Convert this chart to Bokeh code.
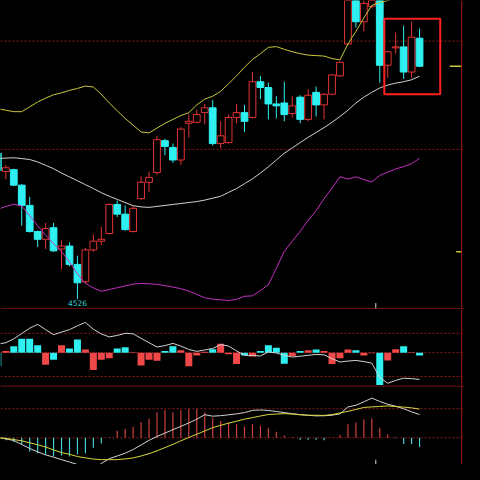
from bokeh.plotting import figure
from bokeh.layouts import column
from bokeh.models import Range1d, Span, ColumnDataSource
from bokeh.core.properties import value
from bokeh.embed import file_html
from bokeh.resources import INLINE

# ---------------- data ----------------
open_ = [4828, 4790, 4794, 4762, 4720, 4666, 4650, 4674, 4630, 4636, 4598, 4562, 4628, 4646, 4662, 4722, 4702, 4666, 4734, 4768,
         4788, 4854, 4840, 4814, 4890, 4892, 4912, 4922, 4848, 4850, 4902, 4912, 4902, 4976, 4964, 4930, 4932, 4910, 4944, 4898,
         4954, 4928, 4950, 4988, 5054, 5156, 5100, 5132, 5164, 5010, 5046, 5048, 4996, 5066]
high = [4840, 4804, 4796, 4764, 4738, 4668, 4684, 4684, 4648, 4644, 4616, 4632, 4660, 4676, 4724, 4730, 4720, 4718, 4780, 4790,
        4864, 4858, 4848, 4882, 4908, 4918, 4930, 4938, 4894, 4908, 4930, 4928, 4996, 4988, 4974, 4946, 4976, 4946, 4948, 4960,
        4966, 4952, 4992, 5018, 5160, 5164, 5154, 5180, 5174, 5040, 5078, 5092, 5100, 5086]
low = [4784, 4774, 4760, 4678, 4664, 4634, 4630, 4624, 4588, 4594, 4526, 4558, 4624, 4638, 4660, 4696, 4668, 4664, 4732, 4748,
       4784, 4824, 4808, 4804, 4860, 4890, 4888, 4844, 4838, 4848, 4890, 4872, 4900, 4940, 4898, 4900, 4894, 4902, 4890, 4894,
       4904, 4898, 4948, 4986, 5052, 5088, 5080, 5128, 4974, 4984, 5034, 4982, 4984, 5006]
close = [4792, 4798, 4762, 4720, 4666, 4650, 4672, 4626, 4636, 4598, 4560, 4628, 4646, 4650, 4722, 4702, 4670, 4714, 4768, 4778,
         4856, 4842, 4814, 4878, 4894, 4908, 4922, 4848, 4864, 4902, 4912, 4894, 4976, 4964, 4930, 4926, 4908, 4926, 4898, 4948,
         4928, 4950, 4990, 5016, 5150, 5100, 5138, 5168, 5010, 5038, 5048, 4996, 5068, 5008]

band_upper = [4920, 4917, 4914, 4914, 4924, 4934, 4942, 4949, 4953, 4958, 4962, 4967, 4965, 4950, 4932, 4916, 4900, 4886, 4872, 4870,
              4880, 4890, 4898, 4906, 4912, 4928, 4940, 4946, 4956, 4972, 4988, 5006, 5022, 5034, 5047, 5048.6, 5043, 5038, 5034, 5031,
              5030, 5029, 5024, 5021, 5054, 5080, 5108, 5134, 5140, 5144, 5150, 5156, 5160, 5164]
band_mid = [4817, 4818, 4818.6, 4817, 4815, 4810, 4803, 4796, 4787, 4779, 4771, 4763, 4755, 4746.4, 4739, 4732.6, 4726, 4719.4, 4717, 4716,
            4718, 4720, 4722, 4724, 4726, 4728, 4731, 4735, 4739, 4747, 4755, 4765, 4775, 4787, 4800, 4814, 4828, 4839, 4850, 4861,
            4871, 4881, 4892, 4904, 4917, 4932, 4944, 4954, 4963, 4969, 4973, 4976, 4980, 4987.4]
band_lower = [4712, 4718, 4722.4, 4718.8, 4699, 4678, 4658.6, 4640.8, 4624.6, 4603, 4578.4, 4558.6, 4549.4, 4542.4, 4546, 4549.8, 4553.4, 4557.4, 4558.6, 4558,
              4556.8, 4554, 4551.2, 4547.6, 4542.8, 4536, 4529, 4526, 4524.8, 4523.2, 4525.8, 4532, 4533, 4544, 4556, 4590, 4625, 4646, 4666.6, 4689.4,
              4709, 4734, 4756, 4779.4, 4774.6, 4779.2, 4773.4, 4768.6, 4782, 4788.8, 4795.4, 4800.4, 4806.4, 4817.4]
main_grid = [5060, 4836]
price_marks = [4624]
highlight = dict(left=48.57, right=55.6, top=5106, bottom=4950)

osc_bar = [-137, 16, 66, 143, 143, 76, -124, -74, 76, 43, 136, 33, -180, -74, -57, 43, 56, 5, -134, -74,
           -84, 16, 66, 26, -140, -30, 10, 36, 93, -17, -117, -30, -40, 16, 76, 50, -114, -34, 16, 26,
           33, 16, -117, -57, 33, 26, -30, -7, -360, -80, 36, 66, 3, -30]
osc_line = [88, 103, 143, 198, 253, 293, 238, 186, 213, 238, 278, 313, 243, 193, 163, 178, 200, 195, 148, 103,
            58, 73, 96, 68, 33, 13, 28, 43, 83, 68, 18, -27, -30, -34, 8, -4, -27, -45, -37, -27,
            -19, -22, -62, -97, -87, -81, -92, -109, -257, -317, -287, -264, -269, -277]
osc_grid = [200, 0, -247]

dif = [0.2, -2.4, -5.8, -14, -22.2, -29.2, -35.4, -40.2, -45.4, -50.2, -55.4, -61.4, -63.4, -53.4, -43.4, -37.8, -32, -24.4, -15, -5.4,
       2.6, 9.6, 16.6, 23.6, 30.6, 38.2, 47.6, 44.6, 45.6, 47.4, 49.4, 52, 56.6, 57.4, 56.4, 54.2, 52, 49.6, 47.8, 46.4,
       45.2, 45.4, 46.6, 49.4, 63.6, 67.2, 74.2, 82, 75, 69.2, 65.2, 60, 53.6, 47.8]
dea = [0.2, -1.4, -3.8, -6.4, -10.6, -14.6, -19.2, -25.2, -30.8, -34.2, -39, -41.6, -44.2, -45.4, -45.4, -45.4, -43.8, -41.8, -37.8, -33,
       -27.2, -20.4, -13.8, -6.4, 0.4, 7.2, 14, 20.8, 25.6, 30.2, 34.2, 38.4, 41.6, 45, 48, 49, 49.8, 49, 47.4, 46.6,
       46.4, 46.2, 47.8, 51.2, 54.6, 58.4, 62.6, 63.8, 64.6, 65.8, 64.4, 63.4, 61.8, 59.2]
macd = [-2, -5.4, -8.6, -14, -28.6, -32, -35.4, -38.6, -36.6, -38.6, -34, -32, -20.6, -12, -0.6, 14.6, 18, 22.6, 32.6, 39.4,
        52.6, 56.6, 52.6, 56.6, 59.4, 59.4, 52.6, 41.4, 34.6, 31.4, 28, 23.4, 28, 24.6, 19.4, 12.6, 4.6, 1, -4, -4,
        -4, -5.4, 0.6, 6, 28, 31.4, 38, 40, 19.4, 6.6, -1, -13, -13, -19.4]
macd_grid = [60, 0]
cursor_x = 47.5

# ---------------- styles ----------------
RED = "#e43434"
CYAN = "#2ef0f0"
BAR_RED = "#f04848"
GRID = "#8a1c1c"
FRAME = "#a01818"
YEL = "#c8c83a"
WHITE = "#d2d2d2"
MAG = "#c030c0"

n = len(open_)
idx = list(range(n))
up = [c >= o for o, c in zip(open_, close)]
col = [RED if u else CYAN for u in up]
fill = ["black" if u else CYAN for u in up]

XR = Range1d(0.33, 58.65)
RIGHT = 58.3
W = 464


def make_fig(h, y0, y1):
    f = figure(width=W, height=h, x_range=XR, y_range=Range1d(y0, y1),
               output_backend="svg", toolbar_location=None,
               x_axis_location=None, y_axis_location=None,
               min_border=0, background_fill_color="black",
               border_fill_color="black", outline_line_color=None)
    f.xgrid.visible = False
    f.ygrid.visible = False
    f.add_layout(Span(location=RIGHT, dimension="height", line_color=FRAME, line_width=1))
    return f


# ---------- main price panel ----------
p1 = make_fig(309, 4504.7, 5144)
for g in main_grid:
    p1.add_layout(Span(location=g, dimension="width", line_color=GRID, line_dash="2 2", level="underlay"))
p1.add_layout(Span(location=4506, dimension="width", line_color=FRAME, line_width=1))

src = ColumnDataSource(dict(x=idx, o=open_, h=high, l=low, c=close,
                            top=[max(a, b) for a, b in zip(open_, close)],
                            bot=[min(a, b) for a, b in zip(open_, close)],
                            col=col, fill=fill))
p1.segment(x0="x", y0="h", x1="x", y1="l", color="col", line_width=1, source=src)
p1.vbar(x="x", width=0.85, top="top", bottom="bot", fill_color="fill", line_color="col", line_width=1, source=src)

p1.line(idx, band_upper, color=YEL, line_width=1)
p1.line(idx, band_mid, color=WHITE, line_width=1)
p1.line(idx, band_lower, color=MAG, line_width=1)

imin = low.index(min(low))
p1.text(x=[imin], y=[low[imin]], text=[str(int(low[imin]))], text_font=value("DejaVu Sans"),
        text_font_size="7.5px", text_align="center", text_baseline="top", y_offset=0.5, text_color="#3cc8c8")

p1.quad(left=[highlight["left"]], right=[highlight["right"]], top=[highlight["top"]], bottom=[highlight["bottom"]],
        fill_color=None, line_color="#ff2222", line_width=2)

p1.segment(x0=[n + 2.8], y0=[close[-1]], x1=[RIGHT], y1=[close[-1]], color=YEL, line_width=1.5)
for m in price_marks:
    p1.segment(x0=[RIGHT - 0.7], y0=[m], x1=[RIGHT], y1=[m], color=YEL, line_width=1.5)
p1.segment(x0=[cursor_x], y0=[4504.7], x1=[cursor_x], y1=[4518], color=WHITE, line_width=1)

# ---------- oscillator panel ----------
p2 = make_fig(76, -339.8, 446.4)
for g in osc_grid:
    p2.add_layout(Span(location=g, dimension="width", line_color=GRID, line_dash="2 2", level="underlay"))
osrc = ColumnDataSource(dict(x=idx, top=[max(v, 0) for v in osc_bar], bot=[min(v, 0) for v in osc_bar],
                             col=[BAR_RED if u else CYAN for u in up]))
p2.vbar(x="x", width=0.88, top="top", bottom="bot", fill_color="col", line_color=None, source=osrc)
p2.line(idx, osc_line, color=WHITE, line_width=1)

# ---------- MACD panel ----------
p3 = make_fig(79, -55.4, 108.04)
p3.add_layout(Span(location=107.0, dimension="width", line_color=FRAME, line_width=1))
for g in macd_grid:
    p3.add_layout(Span(location=g, dimension="width", line_color=GRID, line_dash="2 2", level="underlay"))
msrc = ColumnDataSource(dict(x=idx, y=macd, z=[0] * n, col=["#d04040" if v >= 0 else "#40d0d0" for v in macd]))
p3.segment(x0="x", y0="z", x1="x", y1="y", color="col", line_width=1.2, source=msrc)
p3.line(idx, dif, color=WHITE, line_width=1)
p3.line(idx, dea, color="#d8d83c", line_width=1)
p3.segment(x0=[cursor_x], y0=[-55.4], x1=[cursor_x], y1=[-45.4], color=WHITE, line_width=1)

layout = column(p1, p2, p3, spacing=0)
try:
    from bokeh.models import GlobalInlineStyleSheet
    layout.stylesheets = [GlobalInlineStyleSheet(css="html, body { background: #000000; }")]
except Exception:
    pass

open("out.html", "w").write(file_html(layout, INLINE))
